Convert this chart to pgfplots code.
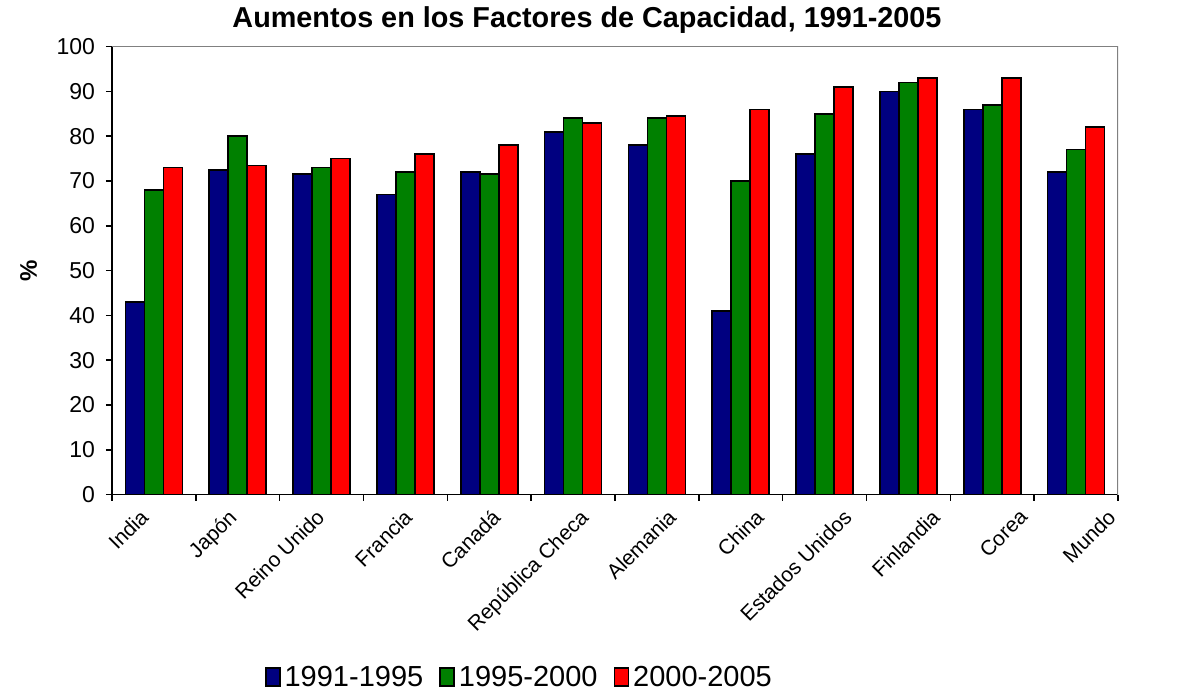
\documentclass[border=0pt]{standalone}
\usepackage{fontspec}
\setmainfont{Liberation Sans}
\usepackage{pgfplots}
\pgfplotsset{compat=1.18}
\definecolor{cNavy}{RGB}{0,0,128}
\definecolor{cGreen}{RGB}{0,128,0}
\definecolor{cRed}{RGB}{255,0,0}
\begin{document}
\begin{tikzpicture}
\begin{axis}[
    scale only axis,
    width=503pt, height=224pt,
    at={(0,0)}, anchor=south west,
    ybar=0pt, bar width=9.5pt,
    xmin=-0.5, xmax=11.5,
    ymin=0, ymax=100,
    ytick={0,10,...,100},
    % labels drift slightly to the right of the bar groups, as in the original
    xtick={-0.179,0.870,1.919,2.968,4.017,5.066,6.115,7.164,8.213,9.262,10.311,11.359},
    xticklabels={India,Japón,Reino Unido,Francia,Canadá,República Checa,Alemania,China,Estados Unidos,Finlandia,Corea,Mundo},
    major x tick style={draw=none},
    minor xtick={-0.5,0.5,...,11.5},
    minor tick length=3pt,
    major tick length=3pt,
    tick align=outside,
    tick style={black, line width=0.8pt},
    axis x line*=bottom, axis y line*=left,
    axis line style={black, line width=0.8pt, -},
    x tick label style={yshift=-2pt, rotate=45, anchor=north east, font=\fontsize{10.5}{12}\selectfont, inner sep=1pt},
    y tick label style={xshift=-2pt, font=\fontsize{11.5}{13}\selectfont},
    /pgf/number format/assume math mode=true,
    ylabel={\textbf{\%}},
    ylabel style={at={(axis description cs:-0.083,0.5)}, anchor=center, font=\fontsize{12}{14}\selectfont},
    title={\textbf{Aumentos en los Factores de Capacidad, 1991-2005}},
    title style={font=\fontsize{14.4}{16}\selectfont, xshift=-14pt, yshift=-3pt},
    legend columns=3,
    legend style={draw=none, at={(0.406,-0.41)}, anchor=center, font=\fontsize{14.5}{16}\selectfont,
        /tikz/every even column/.append style={column sep=6pt}},
    legend image code/.code={\draw[#1, line width=0.8pt] (0pt,-4pt) rectangle (7pt,5pt);},
    every axis plot/.append style={draw=black, line width=0.8pt},
]
\addplot[fill=cNavy] coordinates {(0,43) (1,72.5) (2,71.5) (3,67) (4,72) (5,81) (6,78) (7,41) (8,76) (9,90) (10,86) (11,72)};
\addplot[fill=cGreen] coordinates {(0,68) (1,80) (2,73) (3,72) (4,71.5) (5,84) (6,84) (7,70) (8,85) (9,92) (10,87) (11,77)};
\addplot[fill=cRed] coordinates {(0,73) (1,73.5) (2,75) (3,76) (4,78) (5,83) (6,84.5) (7,86) (8,91) (9,93) (10,93) (11,82)};
\legend{1991-1995,1995-2000,2000-2005}
\draw[gray, line width=0.8pt] (rel axis cs:0,1) -- (rel axis cs:1,1) -- (rel axis cs:1,0);
\end{axis}
\useasboundingbox (-56pt,-99.5pt) rectangle (533.5pt,247pt);
\end{tikzpicture}
\end{document}
